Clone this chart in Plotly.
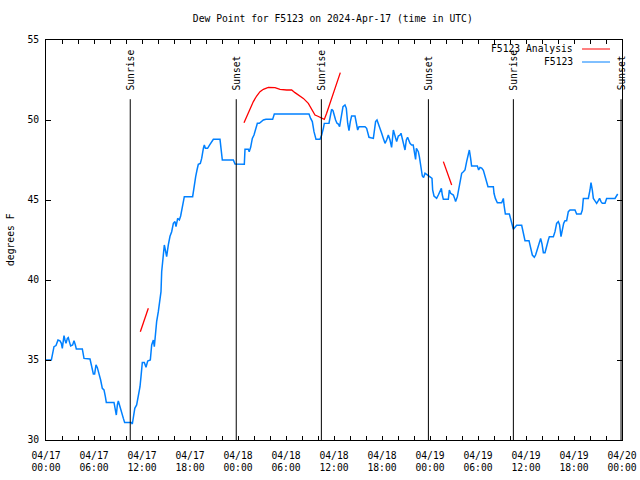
import pandas as pd
import plotly.graph_objects as go

# ---------------- data ----------------
START = pd.Timestamp("2024-04-17 00:00")

# F5123 observations: hours since 2024-04-17 00:00 UTC, dew point (F)
obs_hours = [
    0.0, 0.67, 0.79, 1.0, 1.25, 1.5, 1.75, 1.92, 2.04, 2.25, 2.375, 2.5, 2.67, 2.79, 2.92,
    3.08, 3.33, 3.5, 3.67, 3.79, 4.54, 4.75, 5.5, 5.79, 5.92, 6.08, 6.25, 6.42, 6.625, 6.83,
    7.04, 7.25, 7.42, 7.54, 8.5, 8.71, 8.79, 8.92, 9.04, 9.25, 9.42, 9.67, 9.83, 10.67, 10.79,
    10.96, 11.1, 11.33, 11.54, 11.75, 11.875, 12.04, 12.29, 12.5, 12.71, 13.04, 13.21, 13.42,
    13.54, 13.71, 13.83, 14.04, 14.25, 14.375, 14.46, 14.58, 14.79, 14.92, 15.08, 15.29, 15.5,
    15.71, 15.92, 16.125, 16.25, 16.46, 16.67, 16.83, 17.04, 17.29, 18.33, 18.46, 18.54, 18.71,
    18.875, 19.04, 19.29, 19.46, 19.67, 19.79, 19.92, 20.2, 20.46, 20.71, 20.92, 21.75, 21.96,
    22.04, 23.42, 23.625, 24.79, 24.875, 25.29, 25.4, 25.58, 25.79, 26.0, 26.25, 26.42, 26.67,
    26.96, 27.17, 27.5, 28.33, 28.54, 29.25, 29.46, 32.875, 33.08, 33.29, 33.5, 33.75, 34.25,
    34.46, 34.67, 34.79, 35.375, 35.54, 35.7, 35.875, 36.04, 36.2, 36.375, 36.54, 36.7, 36.875,
    37.125, 37.375, 37.54, 37.71, 37.875, 38.04, 38.2, 38.625, 38.79, 38.96, 39.125, 39.875,
    40.08, 40.2, 40.375, 40.92, 41.04, 41.2, 41.375, 41.54, 41.75, 41.96, 42.17, 42.375, 42.58,
    42.79, 43.0, 43.2, 43.42, 43.625, 43.83, 44.04, 44.25, 44.375, 44.54, 44.7, 44.875, 45.04,
    45.2, 45.5, 45.7, 45.9, 46.04, 46.2, 46.3, 46.54, 46.67, 46.75, 46.875, 47.04, 47.2, 47.375,
    47.58, 47.79, 48.08, 48.25, 48.33, 48.5, 48.83, 49.04, 49.25, 49.42, 49.54, 49.67, 50.29,
    50.42, 50.58, 50.92, 51.08, 51.2, 51.42, 51.58, 51.75, 51.96, 52.17, 52.375, 52.58, 52.79,
    52.92, 53.08, 53.2, 53.92, 54.08, 54.25, 54.46, 54.67, 54.875, 55.08, 55.25, 55.92, 56.0,
    56.17, 56.42, 56.96, 57.17, 57.25, 57.42, 57.92, 58.08, 58.25, 58.42, 58.625, 58.83, 59.46,
    59.67, 59.875, 60.375, 60.54, 60.79, 61.04, 61.2, 61.42, 61.67, 61.83, 62.0, 62.17, 62.375,
    62.58, 62.79, 62.92, 63.42, 63.625, 63.83, 64.04, 64.2, 64.375, 64.54, 64.71, 64.875, 65.08,
    65.29, 65.5, 66.125, 66.33, 66.875, 67.04, 67.17, 67.79, 68.0, 68.125, 68.29, 68.42, 68.625,
    68.83, 69.04, 69.2, 69.375, 69.54, 69.875, 70.08, 71.125, 71.33, 71.46,
]
obs_dewpoint = [
    35.0, 35.0, 35.31, 35.83, 35.9, 36.25, 36.2, 36.04, 35.73, 36.52, 36.25, 36.04, 36.35, 36.4, 36.15,
    35.88, 35.94, 36.2, 35.94, 35.69, 35.69, 35.1, 35.06, 34.48, 34.13, 34.13, 34.69, 34.52, 34.17, 33.75,
    33.23, 33.13, 32.71, 32.35, 32.35, 31.88, 31.56, 32.19, 32.44, 32.08, 31.73, 31.35, 31.1, 31.1, 31.0,
    31.67, 31.98, 32.19, 32.71, 33.33, 33.96, 34.85, 34.85, 34.54, 34.94, 35.0, 35.94, 36.25,
    35.83, 36.875, 37.4, 38.02, 38.65, 39.27, 40.52, 41.35, 42.19, 41.875, 41.46, 42.19, 42.73,
    43.02, 43.54, 43.65, 43.33, 43.85, 43.75, 44.0, 44.48, 45.21, 45.21, 45.625, 46.15, 46.46,
    46.875, 47.23, 47.29, 47.6, 48.23, 48.44, 48.23, 48.23, 48.44, 48.65, 48.79, 48.79, 47.81,
    47.5, 47.5, 47.25, 47.23, 48.17, 48.17, 48.02, 48.29, 48.85, 49.06, 49.48, 49.79, 49.79,
    49.9, 50.0, 50.04, 50.04, 50.375, 50.375, 50.33, 50.375, 50.1, 49.9, 49.27, 48.79, 48.79,
    49.06, 49.48, 49.79, 49.8, 50.21, 50.67, 50.58, 50.21, 50.0, 49.8, 49.75, 49.58, 50.1,
    50.83, 50.94, 50.73, 49.8, 49.33, 49.9, 50.25, 50.25, 49.9, 49.375, 49.58, 49.58,
    49.48, 49.21, 48.92, 48.85, 49.375, 49.9, 50.0, 49.8, 49.48, 49.17, 48.85, 48.54, 48.75,
    49.06, 48.75, 48.29, 49.375, 49.06, 48.65, 49.0, 49.06, 49.17, 48.75, 48.44, 48.125, 48.75,
    48.92, 48.54, 48.44, 48.44, 47.92, 47.54, 48.23, 48.02, 47.71, 47.4, 46.875, 46.5, 46.4, 46.67,
    46.6, 46.5, 46.42, 46.35, 45.625, 45.25, 45.1, 45.31, 45.52, 45.73, 45.31, 45.04, 45.04,
    45.625, 45.42, 45.31, 45.1, 44.9, 45.21, 45.625, 46.25, 46.67, 46.77, 46.875, 47.4, 47.81,
    48.125, 47.6, 47.125, 47.125, 46.875, 47.04, 47.0, 46.85, 46.46, 46.21, 45.83, 45.83, 45.42,
    45.1, 44.83, 44.83, 45.1, 44.69, 44.125, 44.125, 43.75, 43.54, 43.17, 43.3, 43.42, 43.42,
    43.02, 42.46, 42.46, 42.08, 41.56, 41.42, 41.56, 41.92, 42.4, 42.6, 42.25, 41.71, 41.71,
    42.19, 42.5, 42.71, 42.71, 43.02, 43.54, 43.65, 43.44, 42.71, 43.125, 43.54, 43.71, 43.71,
    44.27, 44.375, 44.375, 44.125, 44.125, 44.375, 45.1, 45.1, 45.625, 46.08, 45.625, 45.1, 44.94,
    44.79, 44.96, 45.1, 44.9, 44.79, 44.79, 45.1, 45.1, 45.25, 45.375,
]

# F5123 Analysis (three separate pieces, None = gap)
ana_hours = [
    11.79, 12.79, None,
    24.75, 25.08, 25.5, 25.92, 26.33, 26.75, 27.17, 27.79, 28.625, 29.25, 30.08, 30.71,
    31.125, 31.54, 32.17, 32.79, 33.2, 33.625, 33.92, 34.33, 34.79, 35.08, 35.5, 36.79, None,
    49.67, 50.71,
]
ana_dewpoint = [
    36.77, 38.23, None,
    49.83, 50.21, 50.67, 51.15, 51.5, 51.77, 51.92, 52.04, 52.02, 51.92, 51.875, 51.875,
    51.71, 51.56, 51.35, 51.04, 50.67, 50.31, 50.25, 50.17, 50.04, 50.42, 51.08, 52.96, None,
    47.4, 45.94,
]

# sunrise / sunset events (hours since start)
event_hours = [10.53, 23.78, 34.42, 47.8, 58.42, 71.88]
event_labels = ["Sunrise", "Sunset", "Sunrise", "Sunset", "Sunrise", "Sunset"]

legend_labels = ["F5123 Analysis", "F5123"]

TITLE = "Dew Point for F5123 on 2024-Apr-17 (time in UTC)"
Y_TITLE = "degrees F"


def to_time(hours):
    return [None if h is None else START + pd.Timedelta(hours=h) for h in hours]


FONT = "DejaVu Sans Mono"
FS = 9.7
BLUE = "#0080ff"
RED = "#ff0000"

fig = go.Figure()
fig.add_trace(go.Scatter(x=to_time(obs_hours), y=obs_dewpoint, mode="lines",
                         name=legend_labels[1], line=dict(color=BLUE, width=1.5),
                         showlegend=False))
fig.add_trace(go.Scatter(x=to_time(ana_hours), y=ana_dewpoint, mode="lines",
                         name=legend_labels[0], line=dict(color=RED, width=1.3),
                         connectgaps=False, showlegend=False))

shapes = []
annotations = []
for h, lab in zip(event_hours, event_labels):
    t = START + pd.Timedelta(hours=h)
    shapes.append(dict(type="line", xref="x", yref="paper", x0=t, x1=t, y0=0, y1=0.852,
                       line=dict(color="black", width=1)))
    annotations.append(dict(x=t, y=0.868, xref="x", yref="paper", text=lab, textangle=-90,
                            showarrow=False, xanchor="center", yanchor="bottom",
                            font=dict(family=FONT, size=FS, color="black")))

# manual gnuplot-style key (text left of sample)
for i, (lab, col) in enumerate(zip(legend_labels, [RED, BLUE])):
    yp = 0.9775 - i * 0.0325
    annotations.append(dict(x=0.9184, y=yp, xref="paper", yref="paper", text=lab,
                            showarrow=False, xanchor="right", yanchor="middle",
                            font=dict(family=FONT, size=FS, color="black")))
    shapes.append(dict(type="line", xref="paper", yref="paper", x0=0.9306, x1=0.9792,
                       y0=yp, y1=yp, line=dict(color=col, width=1)))

# y-axis title placed as in gnuplot
annotations.append(dict(x=(10 - 46) / 576, y=0.5, xref="paper", yref="paper", text=Y_TITLE,
                        textangle=-90, showarrow=False, xanchor="center", yanchor="middle",
                        font=dict(family=FONT, size=FS, color="black")))

fig.update_layout(
    width=640, height=480,
    margin=dict(l=46, r=18, t=40, b=40, autoexpand=False),
    paper_bgcolor="white", plot_bgcolor="white",
    font=dict(family=FONT, size=FS, color="black"),
    title=dict(text=TITLE, x=0.52, xref="container", y=1 - 19 / 480, yref="container",
               xanchor="center", yanchor="middle", automargin=False,
               font=dict(family=FONT, size=FS, color="black")),
    shapes=shapes, annotations=annotations,
    showlegend=False,
)
fig.update_xaxes(
    type="date", automargin=False,
    range=[START, START + pd.Timedelta(hours=72)],
    dtick=6 * 3600 * 1000, tick0=START, tickformat="%m/%d<br>%H:%M",
    ticks="inside", ticklen=4, tickcolor="black", ticklabelstandoff=6,
    minor=dict(dtick=2 * 3600 * 1000, tick0=START, ticks="inside", ticklen=4, tickcolor="black"),
    showline=True, linecolor="black", linewidth=1, mirror="ticks",
    showgrid=False, zeroline=False,
    tickfont=dict(family=FONT, size=FS, color="black"),
)
fig.update_yaxes(
    automargin=False,
    range=[30, 55], dtick=5, tick0=30,
    ticks="inside", ticklen=5, tickcolor="black", ticklabelstandoff=4,
    showline=True, linecolor="black", linewidth=1, mirror="ticks",
    showgrid=False, zeroline=False,
    tickfont=dict(family=FONT, size=FS, color="black"),
)

fig.write_html(
    "out.html",
    config={"displayModeBar": False},
    post_script="document.body.style.margin='0px';document.body.style.padding='0px';",
)
